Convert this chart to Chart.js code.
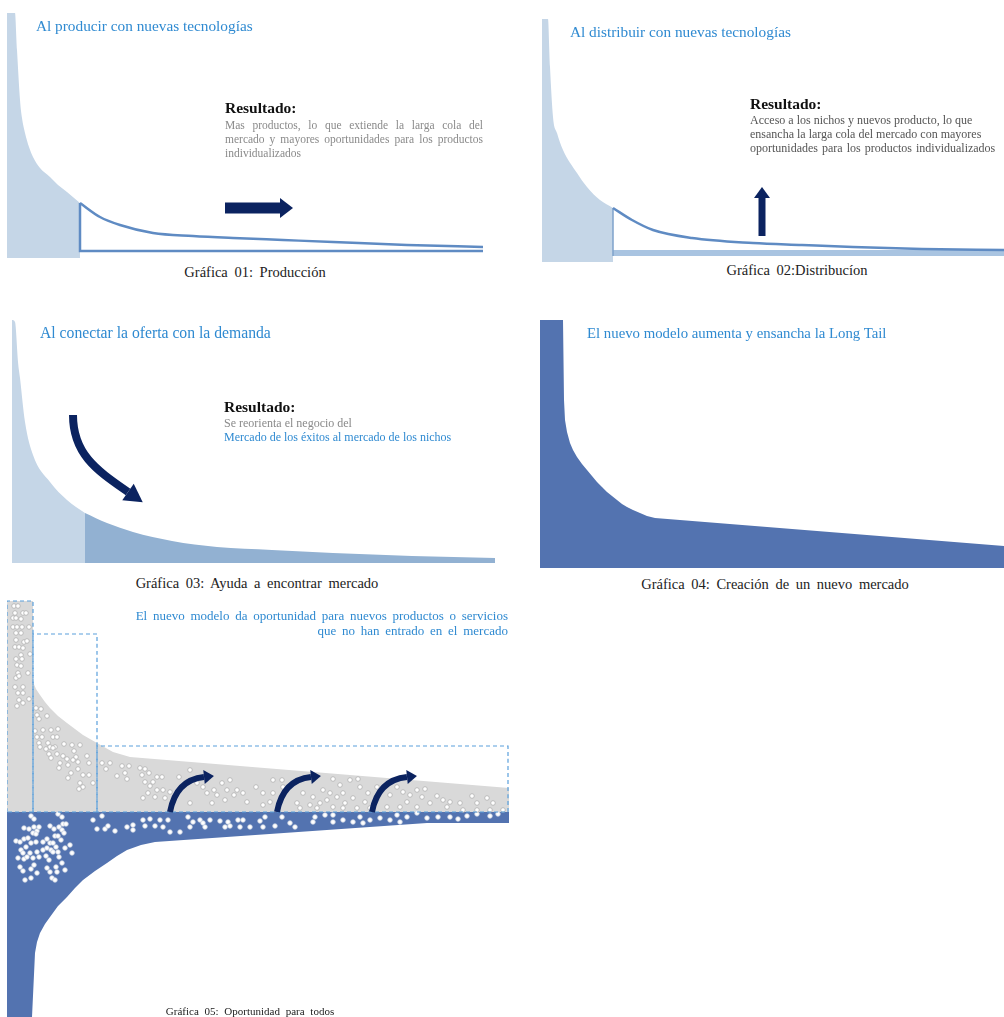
<!DOCTYPE html>
<html>
<head>
<meta charset="utf-8">
<script src="https://cdn.jsdelivr.net/npm/chart.js@4.4.1/dist/chart.umd.min.js"></script>
<style>
  body { margin: 0; background: #fff; width: 1004px; height: 1017px; position: relative; overflow: hidden;
         font-family: 'Liberation Serif', 'Times New Roman', serif; }
  canvas { position: absolute; }
  .txt { position: absolute; white-space: nowrap; z-index: 2; }
  .title { color: #2f8ad1; font-size: 15.3px; line-height: 16px; }
  .res { color: #111; font-size: 15.5px; font-weight: bold; line-height: 16px; }
  .body { font-size: 11.5px; line-height: 14px; }
  .body div { white-space: nowrap; text-align: justify; text-align-last: justify; }
  .body div.last { text-align-last: left; }
  .cap { color: #222; font-size: 14.5px; line-height: 16px; text-align: center; word-spacing: 3px; }
</style>
</head>
<body>

<canvas id="g1" width="476" height="245" style="left:7px;top:13px"></canvas>
<canvas id="g2" width="462" height="243" style="left:542px;top:19px"></canvas>
<canvas id="g3" width="483" height="243" style="left:12px;top:320px"></canvas>
<canvas id="g4" width="464" height="248" style="left:540px;top:320px"></canvas>
<canvas id="g5" width="502" height="422" style="left:7px;top:595px"></canvas>

<!-- Gráfica 01 -->
<div class="txt title" style="left:36px;top:18px">Al producir con nuevas tecnologías</div>
<div class="txt res" style="left:225px;top:100px">Resultado:</div>
<div class="txt body" style="left:225px;top:118px;width:258px;color:#8a8a8a">
  <div>Mas productos, lo que extiende la larga cola del</div>
  <div>mercado y mayores oportunidades para los productos</div>
  <div class="last">individualizados</div>
</div>
<div class="txt cap" style="left:105px;top:264px;width:300px">Gráfica 01: Producción</div>

<!-- Gráfica 02 -->
<div class="txt title" style="left:570px;top:24px">Al distribuir con nuevas tecnologías</div>
<div class="txt res" style="left:750px;top:96px">Resultado:</div>
<div class="txt body" style="left:750px;top:113px;width:250px;color:#555;font-size:12px">
  <div class="last">Acceso a los nichos y nuevos producto, lo que</div>
  <div class="last">ensancha la larga cola del mercado con mayores</div>
  <div class="last" style="word-spacing:1px">oportunidades para los productos individualizados</div>
</div>
<div class="txt cap" style="left:647px;top:262px;width:300px">Gráfica 02:Distribucíon</div>

<!-- Gráfica 03 -->
<div class="txt title" style="left:40px;top:325px;font-size:15.7px">Al conectar la oferta con la demanda</div>
<div class="txt res" style="left:224px;top:399px">Resultado:</div>
<div class="txt body" style="left:224px;top:416px;width:260px;font-size:12px">
  <div class="last" style="color:#8a8a8a">Se reorienta el negocio del</div>
  <div class="last" style="color:#2f8ad1">Mercado de los éxitos al mercado de los nichos</div>
</div>
<div class="txt cap" style="left:57px;top:575px;width:400px">Gráfica 03: Ayuda a encontrar mercado</div>

<!-- Gráfica 04 -->
<div class="txt title" style="left:587px;top:325px;font-size:14.8px">El nuevo modelo aumenta y ensancha la Long Tail</div>
<div class="txt cap" style="left:575px;top:576px;width:400px">Gráfica 04: Creación de un nuevo mercado</div>

<!-- Gráfica 05 -->
<div class="txt title" style="left:58px;top:608px;width:450px;text-align:right;font-size:13px;line-height:15px;word-spacing:2.5px">
  El nuevo modelo da oportunidad para nuevos productos o servicios<br>que no han entrado en el mercado
</div>
<div class="txt cap" style="left:50px;top:1005px;width:400px;font-size:11px;line-height:13px">Gráfica 05: Oportunidad para todos</div>

<script>
// Gráfica 01: curva de demanda (cabeza + larga cola)
const g1HeadX = [0, 8, 10, 13, 15, 18, 22, 26, 33, 43, 51, 60, 73];
const g1HeadY = [245, 245, 208, 158, 140, 125, 111, 101, 90, 81, 73, 66, 55];
const g1TailX = [73, 93, 113, 146, 186, 226, 276, 326, 400, 476];
const g1TailY = [55, 41, 33, 25, 22, 20, 18, 16, 13, 11];
const g1BoxX = [73, 73, 476];
const g1BoxY = [55, 7, 7];

// Gráfica 02
const g2HeadX = [0, 6, 8, 11, 15, 21, 35, 45, 58, 71];
const g2HeadY = [243, 243, 195, 145, 129, 112, 89, 75, 62, 54];
const g2TailX = [71, 90, 111, 150, 211, 260, 311, 380, 462];
const g2TailY = [54, 42, 32, 24, 19, 17, 15, 13, 12];
const g2BandX = [71, 462];
const g2BandY = [12, 12];
const g2EdgeX = [71, 71];
const g2EdgeY = [54, 6];

// Gráfica 03
const g3HeadX = [0, 3, 6, 8, 13, 21, 38, 55, 73];
const g3HeadY = [243, 241, 201, 185, 141, 108, 81, 63, 50];
const g3TailX = [73, 95, 121, 160, 205, 260, 321, 400, 483];
const g3TailY = [50, 40, 31, 22, 16, 13, 10, 7, 5];

// Gráfica 04
const g4X = [0, 23, 24, 25, 27, 30, 33, 37, 42, 47, 52, 57, 62, 67, 72, 77, 82, 87, 93, 100, 107, 115, 464];
const g4Y = [248, 248, 168, 148, 136, 125, 118, 111, 104, 98, 92, 86, 81, 76, 72, 68, 64, 61, 58, 55, 52, 50, 22];

// Gráfica 05: mercado actual (gris) y nuevo mercado (azul)
const g5GrayX = [0, 26, 26, 29, 33, 38, 43, 51, 60, 68, 76, 90, 106, 123, 502];
const g5GrayY = [416, 416, 335, 328, 322, 315, 309, 301, 294, 288, 282, 274, 265, 260, 229];
const g5BlueX = [0, 25, 28, 30, 33, 38, 43, 51, 60, 68, 76, 88, 100, 110, 120, 134, 148, 420, 502];
const g5BlueY = [0, 0, 64, 75, 84, 93, 100, 111, 120, 129, 137, 146, 154, 161, 167, 172, 175, 194, 194];
const g5Base = 205;
const g5Boxes = [[0, 26, 416], [26, 90, 383], [90, 501, 271]];

const grayDots = [
  [7,411],[11,411],[8,404],[16,404],[19,404],[6,399],[9,399],[14,398],[6,390],[10,390],[15,390],[22,390],
  [9,384],[14,384],[9,377],[17,375],[20,376],[8,370],[12,370],[16,369],[14,362],[23,363],[9,358],[15,358],
  [10,352],[14,351],[11,344],[21,344],[9,339],[12,341],[8,330],[16,330],[11,324],[16,324],[12,317],[16,314],
  [22,318],[10,311],
  [29,309],[34,308],[30,302],[40,301],[32,298],[36,287],[44,287],[51,288],[28,286],[30,280],[35,280],[46,280],
  [50,280],[32,274],[41,274],[57,273],[65,272],[73,272],[33,270],[43,270],[48,270],[39,268],[46,269],[50,263],
  [56,261],[67,266],[42,263],[44,259],[60,258],[69,260],[80,261],[53,254],[61,252],[66,257],[71,255],[82,254],
  [52,249],[71,248],[64,244],[76,242],[82,242],[61,239],[73,234],[86,234],[76,230],[72,228],
  [95,254],[103,254],[99,248],[115,251],[122,251],[118,244],[110,241],[120,238],[133,249],[138,248],[142,244],
  [135,242],[150,240],[138,235],[146,235],[155,240],[143,231],[150,227],[156,227],[163,225],[141,224],[136,219],
  [148,220],[158,219],[172,240],[180,235],[183,247],[190,234],[196,230],[200,224],[207,227],[215,234],[220,227],
  [210,222],[218,217],[227,222],[230,227],[236,224],[240,215],[223,237],[256,224],[249,230],[266,224],[266,237],
  [275,237],[276,230],[183,214],[205,214],[256,212],[263,215],
  [326,238],[333,232],[343,237],[351,238],[316,227],[323,224],[336,224],[353,230],[361,224],[370,230],[296,224],
  [306,220],[290,214],[303,212],[313,214],[320,217],[330,220],[338,214],[346,219],[358,215],[370,218],[383,222],
  [390,230],[396,225],[403,222],[410,227],[418,228],[415,220],[400,215],[423,214],[430,221],[436,217],[443,215],
  [453,214],[465,221],[470,214],[480,219],[486,214],[496,207],[483,207],[470,207],[456,207],[440,210],[380,210],
  [393,210],[410,210],[363,209],[350,209],[336,209],[326,210],[310,209],[293,209]
];
const blueDots = [
  [24,201],[27,198],[51,203],[55,200],[17,189],[22,188],[27,190],[30,186],[32,190],[26,184],[29,183],[43,191],
  [47,188],[52,190],[56,193],[59,193],[55,187],[57,184],[9,176],[13,175],[17,178],[21,179],[24,174],[29,175],
  [36,175],[40,178],[48,181],[51,181],[43,174],[46,174],[54,177],[14,167],[16,164],[19,170],[23,164],[30,165],
  [36,167],[40,169],[44,167],[46,165],[49,170],[51,165],[58,169],[63,172],[65,164],[11,159],[17,158],[20,160],
  [26,159],[32,160],[39,161],[42,157],[52,160],[13,150],[16,146],[24,148],[27,152],[30,144],[40,149],[43,145],
  [49,150],[55,154],[50,145],[58,147],[18,137],[24,139],[45,139],[48,137],
  [86,197],[95,201],[90,188],[98,188],[101,191],[108,186],[120,190],[126,187],[126,192],[136,197],[143,198],
  [138,191],[148,191],[153,197],[161,197],[156,190],[163,185],[173,185],[181,200],[186,195],[193,197],[196,194],
  [203,197],[183,190],[198,190],[213,196],[221,195],[218,190],[223,191],[231,197],[236,197],[233,190],[243,190],
  [253,196],[258,200],[256,190],[268,191],[275,200],[283,194],[288,190],
  [308,200],[306,195],[318,202],[326,202],[336,197],[346,195],[353,200],[363,197],[373,199],[383,197],[390,202],
  [400,200],[410,204],[420,199],[431,200],[443,200],[451,198],[460,201],[470,203],[483,201],[491,203],[326,195],
  [356,194],[393,195]
];

// Flechas (en unidades de los ejes)
const g1Arrows = [{ from: [218, 50], to: [273, 50], width: 11, head: 13, half: 10 }];
const g2Arrows = [{ from: [220, 26], to: [220, 64], width: 7, head: 11, half: 8 }];
const g3Arrows = [{ from: [61, 148], ctrl: [61, 108], ctrl2: [86, 92], to: [116, 71], width: 8, head: 18, half: 10 }];
const g5Arrows = [
  { from: [163, 205], ctrl: [169, 237], to: [197, 240], width: 6, head: 10, half: 7 },
  { from: [270, 205], ctrl: [276, 237], to: [304, 240], width: 6, head: 10, half: 7 },
  { from: [365, 205], ctrl: [371, 237], to: [400, 240], width: 6, head: 10, half: 7 }
];

const COLORS = {
  light: '#c5d6e7',
  mid: '#92b1d2',
  line: '#5f8bc3',
  band: '#a9c4e1',
  blue: '#5373b0',
  gray: '#d9d9d9',
  dash: '#5aa0dc',
  navy: '#0b2360'
};

function pts(xs, ys) {
  return xs.map((x, i) => ({ x: x, y: ys[i] }));
}

function area(xs, ys, color, fill, order, smooth) {
  return {
    data: pts(xs, ys),
    backgroundColor: color,
    borderWidth: 0,
    fill: fill,
    cubicInterpolationMode: smooth ? 'monotone' : 'default',
    order: order
  };
}

function stroke(xs, ys, color, width, order, dash) {
  return {
    data: pts(xs, ys),
    borderColor: color,
    borderWidth: width,
    borderDash: dash || [],
    fill: false,
    cubicInterpolationMode: xs.length > 3 ? 'monotone' : 'default',
    order: order
  };
}

function dots(list, border) {
  return {
    data: list.map(d => ({ x: d[0], y: d[1] })),
    showLine: false,
    pointRadius: 2.3,
    pointBackgroundColor: '#ffffff',
    pointBorderColor: border,
    pointBorderWidth: 0.8,
    order: 1
  };
}

/**
 * Plugin: flechas rectas o curvas, posicionadas con las escalas
 */
const arrowPlugin = {
  id: 'arrows',
  afterDatasetsDraw(chart, args, opts) {
    const items = (opts && opts.items) || [];
    const ctx = chart.ctx;
    const sx = chart.scales.x, sy = chart.scales.y;
    const P = p => [sx.getPixelForValue(p[0]), sy.getPixelForValue(p[1])];
    ctx.save();
    ctx.fillStyle = COLORS.navy;
    ctx.strokeStyle = COLORS.navy;
    items.forEach(a => {
      const s = P(a.from), e = P(a.to);
      let dir;
      ctx.lineWidth = a.width;
      ctx.lineCap = 'butt';
      ctx.beginPath();
      ctx.moveTo(s[0], s[1]);
      if (a.ctrl2) {
        const c1 = P(a.ctrl), c2 = P(a.ctrl2);
        ctx.bezierCurveTo(c1[0], c1[1], c2[0], c2[1], e[0], e[1]);
        dir = [e[0] - c2[0], e[1] - c2[1]];
      } else if (a.ctrl) {
        const c = P(a.ctrl);
        ctx.quadraticCurveTo(c[0], c[1], e[0], e[1]);
        dir = [e[0] - c[0], e[1] - c[1]];
      } else {
        ctx.lineTo(e[0], e[1]);
        dir = [e[0] - s[0], e[1] - s[1]];
      }
      ctx.stroke();
      const len = Math.hypot(dir[0], dir[1]);
      const ux = dir[0] / len, uy = dir[1] / len;
      ctx.beginPath();
      ctx.moveTo(e[0] + ux * a.head, e[1] + uy * a.head);
      ctx.lineTo(e[0] - uy * a.half, e[1] + ux * a.half);
      ctx.lineTo(e[0] + uy * a.half, e[1] - ux * a.half);
      ctx.closePath();
      ctx.fill();
    });
    ctx.restore();
  }
};
Chart.register(arrowPlugin);

function makeChart(id, datasets, arrows) {
  const canvas = document.getElementById(id);
  return new Chart(canvas, {
    type: 'line',
    data: { datasets: datasets },
    options: {
      responsive: false,
      animation: false,
      events: [],
      layout: { padding: 0, autoPadding: false },
      elements: { point: { radius: 0 }, line: { tension: 0 } },
      plugins: {
        legend: { display: false },
        tooltip: { enabled: false },
        arrows: { items: arrows || [] }
      },
      scales: {
        x: { type: 'linear', display: false, min: 0, max: canvas.width },
        y: { type: 'linear', display: false, min: 0, max: canvas.height }
      }
    }
  });
}

let charts = {};

charts.g1 = makeChart('g1', [
  area(g1HeadX, g1HeadY, COLORS.light, 'origin', 5, true),
  stroke(g1TailX, g1TailY, COLORS.line, 2.5, 3),
  stroke(g1BoxX, g1BoxY, COLORS.line, 2.5, 3)
], g1Arrows);

charts.g2 = makeChart('g2', [
  area(g2HeadX, g2HeadY, COLORS.light, 'origin', 5, true),
  area(g2BandX, g2BandY, COLORS.band, { value: 6 }, 4, false),
  stroke(g2TailX, g2TailY, COLORS.line, 2.5, 3),
  stroke(g2EdgeX, g2EdgeY, '#7fa3cc', 1.5, 3)
], g2Arrows);

charts.g3 = makeChart('g3', [
  area(g3HeadX, g3HeadY, COLORS.light, 'origin', 5, true),
  area(g3TailX, g3TailY, COLORS.mid, 'origin', 5, true)
], g3Arrows);

charts.g4 = makeChart('g4', [
  area(g4X, g4Y, COLORS.blue, 'origin', 5, false)
]);

const g5Sets = [
  area(g5GrayX, g5GrayY, COLORS.gray, { value: g5Base }, 5, false),
  area(g5BlueX, g5BlueY, COLORS.blue, { value: g5Base }, 5, false),
  dots(grayDots, '#b0b0b0'),
  dots(blueDots, '#c8d0e0')
];
g5Boxes.forEach(b => {
  g5Sets.push(stroke([b[0], b[0], b[1], b[1], b[0]], [g5Base, b[2], b[2], g5Base, g5Base], COLORS.dash, 1.2, 0, [4, 3]));
});
charts.g5 = makeChart('g5', g5Sets, g5Arrows);
</script>
</body>
</html>
